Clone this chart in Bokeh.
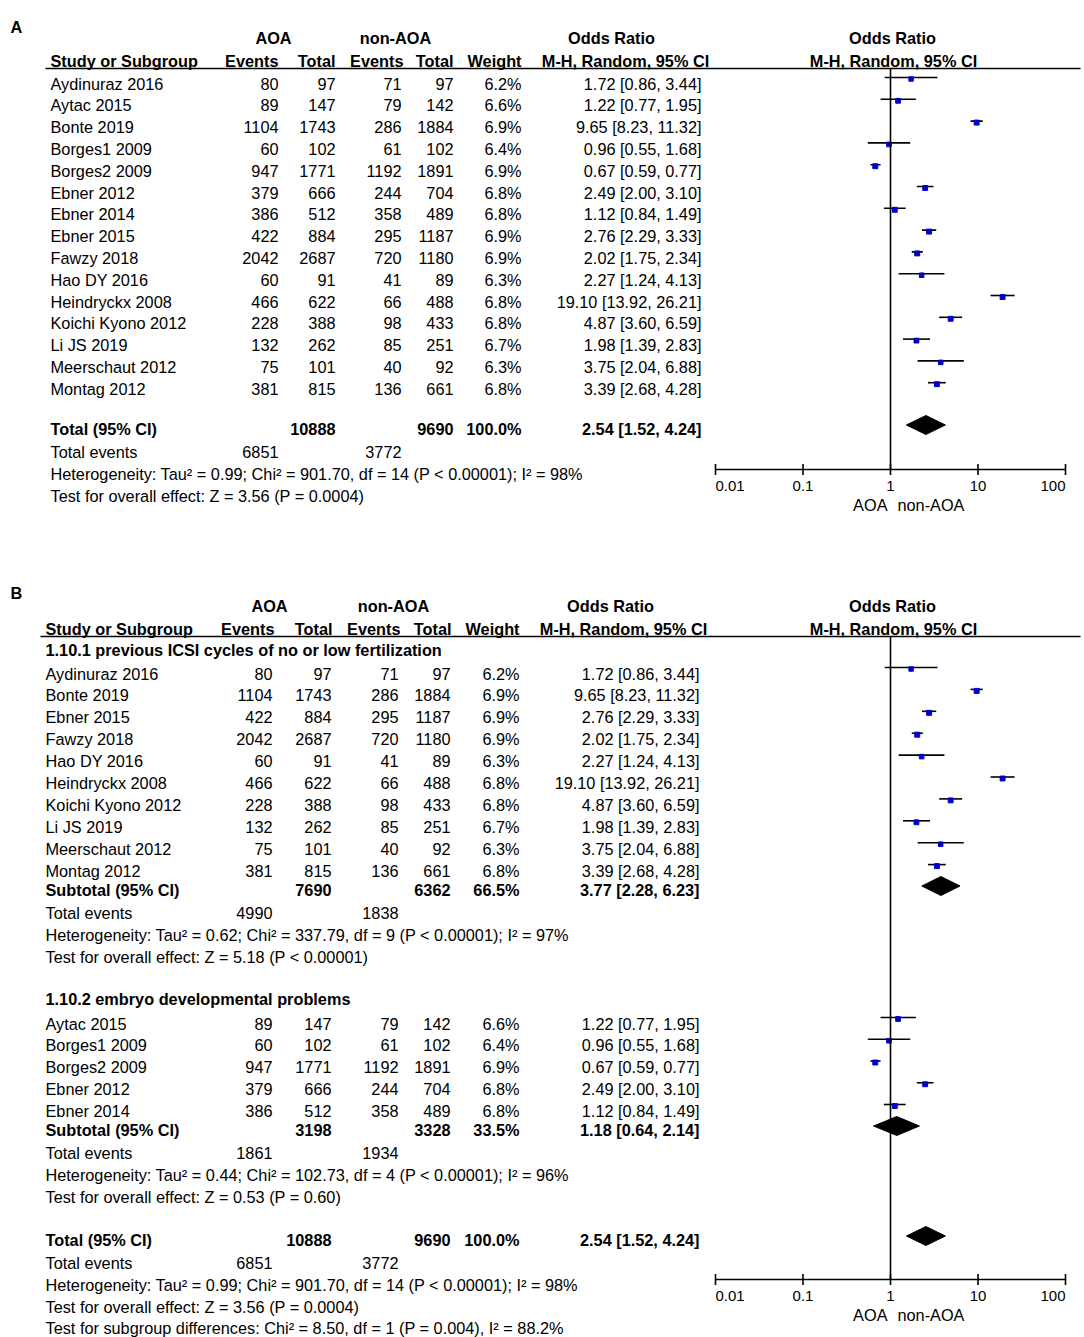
from bokeh.plotting import figure
from bokeh.models import Range1d, LogScale
from bokeh.core.properties import value
from bokeh.embed import file_html
from bokeh.resources import INLINE

# ---------------- data ----------------
studies = ["Aydinuraz 2016", "Aytac 2015", "Bonte 2019", "Borges1 2009", "Borges2 2009",
           "Ebner 2012", "Ebner 2014", "Ebner 2015", "Fawzy 2018", "Hao DY 2016",
           "Heindryckx 2008", "Koichi Kyono 2012", "Li JS 2019", "Meerschaut 2012", "Montag 2012"]
aoa_events = [80, 89, 1104, 60, 947, 379, 386, 422, 2042, 60, 466, 228, 132, 75, 381]
aoa_total = [97, 147, 1743, 102, 1771, 666, 512, 884, 2687, 91, 622, 388, 262, 101, 815]
non_events = [71, 79, 286, 61, 1192, 244, 358, 295, 720, 41, 66, 98, 85, 40, 136]
non_total = [97, 142, 1884, 102, 1891, 704, 489, 1187, 1180, 89, 488, 433, 251, 92, 661]
weights = [6.2, 6.6, 6.9, 6.4, 6.9, 6.8, 6.8, 6.9, 6.9, 6.3, 6.8, 6.8, 6.7, 6.3, 6.8]
odds = [1.72, 1.22, 9.65, 0.96, 0.67, 2.49, 1.12, 2.76, 2.02, 2.27, 19.10, 4.87, 1.98, 3.75, 3.39]
ci_low = [0.86, 0.77, 8.23, 0.55, 0.59, 2.00, 0.84, 2.29, 1.75, 1.24, 13.92, 3.60, 1.39, 2.04, 2.68]
ci_high = [3.44, 1.95, 11.32, 1.68, 0.77, 3.10, 1.49, 3.33, 2.34, 4.13, 26.21, 6.59, 2.83, 6.88, 4.28]

subgroup1_idx = [0, 2, 7, 8, 9, 10, 11, 12, 13, 14]
subgroup2_idx = [1, 3, 4, 5, 6]
subgroup_titles = ["1.10.1 previous ICSI cycles of no or low fertilization",
                   "1.10.2 embryo developmental problems"]

# summaries: overall, subgroup 1, subgroup 2
summary_labels = ["Total (95% CI)", "Subtotal (95% CI)", "Subtotal (95% CI)"]
summary_ev1 = [6851, 4990, 1861]
summary_tot1 = [10888, 7690, 3198]
summary_ev2 = [3772, 1838, 1934]
summary_tot2 = [9690, 6362, 3328]
summary_weight = [100.0, 66.5, 33.5]
summary_or = [2.54, 3.77, 1.18]
summary_low = [1.52, 2.28, 0.64]
summary_high = [4.24, 6.23, 2.14]
het_texts = ["Heterogeneity: Tau² = 0.99; Chi² = 901.70, df = 14 (P < 0.00001); I² = 98%",
             "Heterogeneity: Tau² = 0.62; Chi² = 337.79, df = 9 (P < 0.00001); I² = 97%",
             "Heterogeneity: Tau² = 0.44; Chi² = 102.73, df = 4 (P < 0.00001); I² = 96%"]
effect_texts = ["Test for overall effect: Z = 3.56 (P = 0.0004)",
                "Test for overall effect: Z = 5.18 (P < 0.00001)",
                "Test for overall effect: Z = 0.53 (P = 0.60)"]
subgroup_diff_text = "Test for subgroup differences: Chi² = 8.50, df = 1 (P = 0.004), I² = 88.2%"

axis_ticks = [0.01, 0.1, 1, 10, 100]
axis_tick_labels = ["0.01", "0.1", "1", "10", "100"]

# ---------------- figure ----------------
X0, X1 = 0, 1084
p = figure(width=1084, height=1337, x_range=Range1d(X0, X1), y_range=Range1d(1337, 0),
           output_backend="svg", toolbar_location=None, min_border=0,
           x_axis_location=None, y_axis_location=None)
p.xgrid.visible = False
p.ygrid.visible = False
p.outline_line_color = None
p.background_fill_color = "white"
p.border_fill_color = "white"

NULL_X, DEC = 890.0, 87.5   # pixel of OR=1, pixels per decade
p.extra_x_ranges = {"or": Range1d(10 ** ((X0 - NULL_X) / DEC), 10 ** ((X1 - NULL_X) / DEC))}
p.extra_x_scales = {"or": LogScale()}

FONT = value("Liberation Sans")
BLUE = "#0000cc"
TEXT_DY = -6.5
FS = "16.3px"


def txt(xs, ys, texts, align="left", bold=False, size=FS, rng=None):
    kw = {"x_range_name": rng} if rng else {}
    p.text(x=xs, y=[y + TEXT_DY for y in ys], text=texts, text_align=align,
           text_baseline="alphabetic", text_font=FONT, text_font_size=size,
           text_font_style="bold" if bold else "normal", text_color="black", **kw)


def fmt_ci(o, l, h):
    return f"{o:.2f} [{l:.2f}, {h:.2f}]"


def header(label, label_y, y1, y2, rule_y, cols, hc):
    txt([10], [label_y], [label], bold=True)
    txt([hc["aoa"], hc["non"], hc["or"], 892], [y1] * 4,
        ["AOA", "non-AOA", "Odds Ratio", "Odds Ratio"], align="center", bold=True)
    txt([cols["name"]], [y2], ["Study or Subgroup"], bold=True)
    txt([hc["ev1"], hc["tot1"], hc["ev2"], hc["tot2"], hc["wt"]], [y2] * 5,
        ["Events", "Total", "Events", "Total", "Weight"], align="right", bold=True)
    txt([hc["mh"], 893], [y2] * 2, ["M-H, Random, 95% CI"] * 2, align="center", bold=True)
    p.segment(x0=[cols["name"] - 5], x1=[1080], y0=[rule_y], y1=[rule_y],
              line_color="black", line_width=1.6)


def study_rows(idx, y0, dy, cols):
    n = len(idx)
    ys = [y0 + k * dy for k in range(n)]
    txt([cols["name"]] * n, ys, [studies[i] for i in idx])
    txt([cols["ev1"]] * n, ys, [str(aoa_events[i]) for i in idx], align="right")
    txt([cols["tot1"]] * n, ys, [str(aoa_total[i]) for i in idx], align="right")
    txt([cols["ev2"]] * n, ys, [str(non_events[i]) for i in idx], align="right")
    txt([cols["tot2"]] * n, ys, [str(non_total[i]) for i in idx], align="right")
    txt([cols["wt"]] * n, ys, [f"{weights[i]:.1f}%" for i in idx], align="right")
    txt([cols["ort"]] * n, ys, [fmt_ci(odds[i], ci_low[i], ci_high[i]) for i in idx], align="right")
    p.segment(x0=[ci_low[i] for i in idx], x1=[ci_high[i] for i in idx],
              y0=[y - 12.5 for y in ys], y1=[y - 12.5 for y in ys],
              x_range_name="or", line_color="black", line_width=1.6)
    p.scatter(x=[odds[i] for i in idx], y=[y - 11 for y in ys],
              size=[weights[i] * 0.72 for i in idx], marker="square",
              fill_color=BLUE, line_color=BLUE, x_range_name="or")


def summary_row(k, y, cols):
    txt([cols["name"]], [y], [summary_labels[k]], bold=True)
    txt([cols["tot1"], cols["tot2"], cols["wt"], cols["ort"]], [y] * 4,
        [str(summary_tot1[k]), str(summary_tot2[k]), f"{summary_weight[k]:.1f}%",
         fmt_ci(summary_or[k], summary_low[k], summary_high[k])], align="right", bold=True)
    yc = y - 10.5
    p.patch(x=[summary_low[k], summary_or[k], summary_high[k], summary_or[k]],
            y=[yc, yc - 9.5, yc, yc + 9.5], x_range_name="or",
            fill_color="black", line_color="black", line_width=1)


def stats_rows(k, y, dy, cols):
    txt([cols["name"]], [y], ["Total events"])
    txt([cols["ev1"], cols["ev2"]], [y, y], [str(summary_ev1[k]), str(summary_ev2[k])], align="right")
    txt([cols["name"]], [y + dy], [het_texts[k]])
    txt([cols["name"]], [y + 2 * dy], [effect_texts[k]])


def forest_axis(top_y, axis_y):
    p.segment(x0=[1], x1=[1], y0=[top_y], y1=[axis_y], x_range_name="or",
              line_color="black", line_width=1.6)
    p.segment(x0=[axis_ticks[0]], x1=[axis_ticks[-1]], y0=[axis_y], y1=[axis_y],
              x_range_name="or", line_color="black", line_width=1.6)
    p.segment(x0=axis_ticks, x1=axis_ticks, y0=[axis_y - 5.5] * 5, y1=[axis_y + 5.5] * 5,
              x_range_name="or", line_color="black", line_width=1.6)
    ly = axis_y + 23
    txt([axis_ticks[0]], [ly], [axis_tick_labels[0]], align="left", size="15px", rng="or")
    txt(axis_ticks[1:4], [ly] * 3, axis_tick_labels[1:4], align="center", size="15px", rng="or")
    txt([axis_ticks[4]], [ly], [axis_tick_labels[4]], align="right", size="15px", rng="or")
    txt([887], [axis_y + 42], ["AOA"], align="right")
    txt([897], [axis_y + 42], ["non-AOA"], align="left")


# ---------------- panel A ----------------
colsA = dict(name=50, ev1=278, tot1=335, ev2=401, tot2=453, wt=521, ort=701)
hcA = dict(aoa=273, non=395, **{"or": 611}, ev1=278, tot1=335, ev2=403, tot2=453, wt=521, mh=625)
header("A", 33, 43.5, 66.5, 68, colsA, hcA)
study_rows(list(range(len(studies))), 89.5, 21.8, colsA)
summary_row(0, 435, colsA)
stats_rows(0, 458, 22, colsA)
forest_axis(68, 469)

# ---------------- panel B ----------------
colsB = dict(name=45, ev1=272, tot1=331, ev2=398, tot2=450, wt=519, ort=699)
hcB = dict(aoa=269, non=393, **{"or": 610}, ev1=274, tot1=332, ev2=400, tot2=451, wt=519, mh=623)
header("B", 599, 611.5, 634.5, 636, colsB, hcB)
txt([colsB["name"]], [655.5], [subgroup_titles[0]], bold=True)
study_rows(subgroup1_idx, 679.5, 21.9, colsB)
summary_row(1, 896, colsB)
stats_rows(1, 919, 22, colsB)
txt([colsB["name"]], [1005], [subgroup_titles[1]], bold=True)
study_rows(subgroup2_idx, 1029.5, 21.75, colsB)
summary_row(2, 1136, colsB)
stats_rows(2, 1159, 22, colsB)
summary_row(0, 1246, colsB)
stats_rows(0, 1269, 22, colsB)
txt([colsB["name"]], [1334], [subgroup_diff_text])
forest_axis(636, 1279)

open("out.html", "w").write(file_html(p, INLINE))
